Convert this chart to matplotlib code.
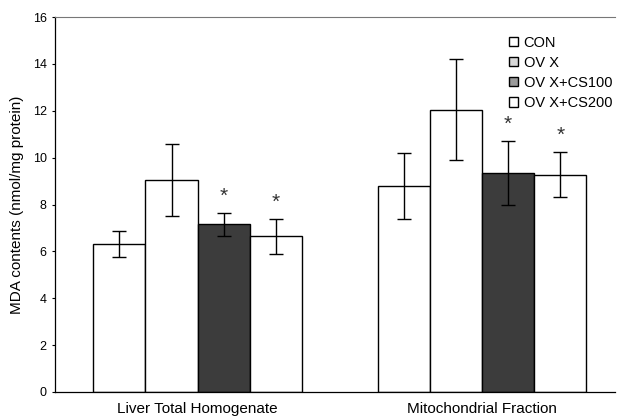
import numpy as np
import matplotlib
matplotlib.use('Agg')
import matplotlib.pyplot as plt
from matplotlib.patches import Patch

plt.rcParams['font.family'] = ['Liberation Sans', 'DejaVu Sans']

# data
groups = ['Liver Total Homogenate', 'Mitochondrial Fraction']
series = ['CON', 'OV X', 'OV X+CS100', 'OV X+CS200']
con = [6.3, 8.8]
ovx = [9.05, 12.05]
cs100 = [7.15, 9.35]
cs200 = [6.65, 9.28]
con_err = [0.55, 1.4]
ovx_err = [1.55, 2.15]
cs100_err = [0.5, 1.35]
cs200_err = [0.75, 0.95]
star_cs100 = [True, True]
star_cs200 = [True, True]

values = [con, ovx, cs100, cs200]
errors = [con_err, ovx_err, cs100_err, cs200_err]
stars = [[False, False], [False, False], star_cs100, star_cs200]
colors = ['white', 'white', '#3c3c3c', 'white']

fig = plt.figure(figsize=(6.19, 4.17), dpi=100)
ax = fig.add_axes([55 / 619, 25 / 417, 560 / 619, 375 / 417])

x = np.arange(len(groups))
width = 0.183
offsets = (np.arange(len(series)) - 1.5) * width

for i in range(len(series)):
    pos = x + offsets[i]
    ax.bar(pos, values[i], width, color=colors[i], edgecolor='black', linewidth=1.0, zorder=2)
    ax.errorbar(pos, values[i], yerr=errors[i], fmt='none', ecolor='black',
                elinewidth=1.0, capsize=5, capthick=1.0, zorder=3)
    for j in range(len(groups)):
        if stars[i][j]:
            ax.text(pos[j], values[i][j] + errors[i][j] + 0.3, '*', ha='center', va='bottom',
                    fontsize=15, color='#333333')

ax.set_xlim(-0.501, 1.467)
ax.set_ylim(0, 16)
ax.set_yticks(np.arange(0, 17, 2))
ax.tick_params(axis='y', length=2, labelsize=9, pad=4)
ax.set_xticks(x)
ax.set_xticklabels(groups, fontsize=11)
ax.tick_params(axis='x', length=0, pad=7)
ax.set_ylabel('MDA contents (nmol/mg protein)', fontsize=11, labelpad=6)

ax.spines['right'].set_visible(False)
ax.spines['top'].set_color('#777777')
ax.spines['top'].set_linewidth(0.8)
ax.spines['left'].set_linewidth(0.9)
ax.spines['bottom'].set_linewidth(0.9)

handles = [Patch(facecolor=c, edgecolor='black', linewidth=1.0) for c in ['white', '#d8d8d8', '#9a9a9a', 'white']]
leg = ax.legend(handles, series, loc='upper right', bbox_to_anchor=(0.995, 0.95), frameon=False,
                fontsize=10.5, handlelength=0.6, handleheight=0.6, handletextpad=0.4,
                labelspacing=0.42, borderaxespad=0, borderpad=0)

fig.savefig('out.png', dpi=100)
plt.close()
